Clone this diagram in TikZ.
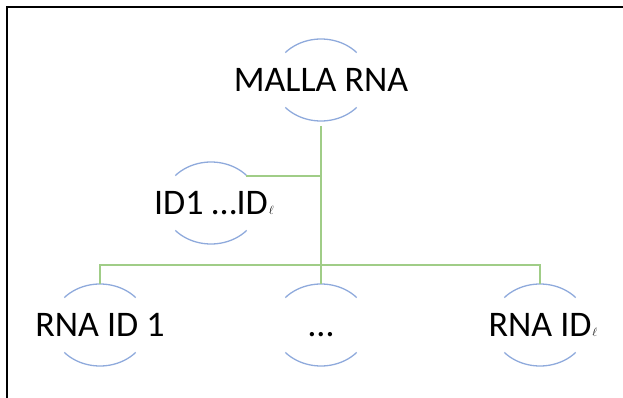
\documentclass[tikz,border=0pt]{standalone}
\usepackage{fontspec}
\setmainfont{Carlito}
\definecolor{ringblue}{RGB}{143,170,220}
\definecolor{treegreen}{RGB}{160,205,135}
\tikzset{
  label/.style={font=\fontsize{36}{36}\selectfont, inner sep=0pt,
    text height=23.2pt, text depth=0pt, anchor=center},
  ring/.style={draw=ringblue, line width=1.3pt},
  tree/.style={draw=treegreen, line width=1.5pt},
  frame/.style={draw=black, line width=1.3pt}
}
% small script index after ID
\newcommand{\idx}{\rlap{\kern1pt\fontsize{13}{13}\selectfont$\ell$}}
% upper and lower arcs around a node centre
\newcommand{\rings}[1]{%
  \draw[ring] ([shift={(42:48pt and 41pt)}]#1.center)
    arc[start angle=42, end angle=138, x radius=48pt, y radius=41pt];
  \draw[ring] ([shift={(222:48pt and 41pt)}]#1.center)
    arc[start angle=222, end angle=318, x radius=48pt, y radius=41pt];
}
\begin{document}
\begin{tikzpicture}[x=1pt, y=-1pt]
  \useasboundingbox (0,0) rectangle (623,398);
  % frame
  \coordinate (fa) at (7,398);
  \coordinate (fb) at (7,7);
  \coordinate (fc) at (623,7);
  \draw[frame] (fa) -- (fb) -- (fc);

  % nodes
  \node[label] (malla) at (321,80) {MALLA RNA};
  \node[label] (ids)   at (211,203) {ID1 …ID\idx};
  \node[label] (rna1)  at (100,325) {RNA ID 1};
  \node[label] (mid)   at (321,325) {…};
  \node[label] (rnal)  at (540,325) {RNA ID\idx};

  \rings{malla}
  \rings{ids}
  \rings{rna1}
  \rings{mid}
  \rings{rnal}

  % connectors
  \coordinate (bus) at (321,265);
  \coordinate (idtap) at ([shift={(35pt,27pt)}]ids.center);
  \coordinate (trunktop) at ([yshift=-46pt]malla.center);
  \draw[tree] (trunktop) -- ([yshift=41pt]mid.center);
  \draw[tree] (idtap) -- (idtap -| trunktop);
  \draw[tree] ([yshift=41pt]rna1.center) |- (bus) -| ([yshift=41pt]rnal.center);
\end{tikzpicture}
\end{document}
